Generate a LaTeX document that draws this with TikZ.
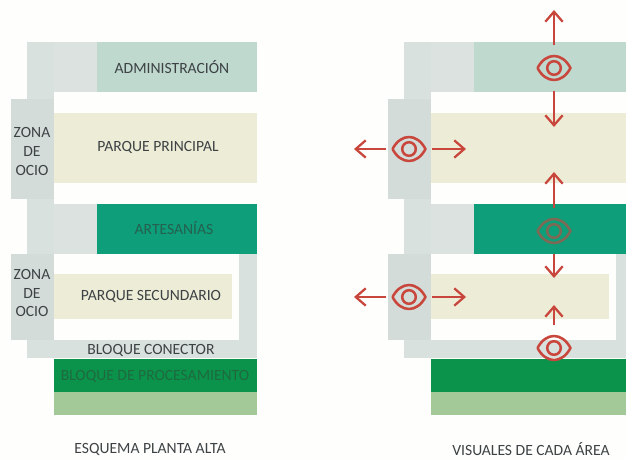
\documentclass[tikz,border=0pt]{standalone}
\usepackage{fontspec}
\setmainfont{Carlito}
\usetikzlibrary{arrows.meta}
\definecolor{paper}{HTML}{FEFEFD}
\definecolor{grayblock}{HTML}{D9E1DE}
\definecolor{grayupper}{HTML}{DBE2DF}
\definecolor{zonablock}{HTML}{D4DCDA}
\definecolor{adminblock}{HTML}{BFD9CF}
\definecolor{parkblock}{HTML}{EDEDD7}
\definecolor{craftblock}{HTML}{0E9E7A}
\definecolor{procblock}{HTML}{0B934B}
\definecolor{lowblock}{HTML}{A3C998}
\definecolor{labelink}{HTML}{3D4244}
\definecolor{craftink}{HTML}{24614F}
\definecolor{procink}{HTML}{1E6A3E}
\definecolor{viewred}{HTML}{C9463C}
\tikzset{
    label/.style = {text = labelink, font = \fontsize{11.7pt}{13.9pt}\selectfont, align = center, inner sep = 0},
    eye/.style = {circle, minimum size = 34, inner sep = 0},
    eyeline/.style = {draw = viewred, line width = 1.9pt},
    view/.style = {draw = viewred, line width = 1.7pt, -{Straight Barb[length = 7.5pt, width = 13pt, line width = 1.7pt]}}
}
\newcommand{\planblocks}[1]{
    \begin{scope}[xshift = #1 * 0.75pt]
        \fill [grayblock] (27, 42) rectangle (54, 358);
        \fill [grayupper] (54, 42) rectangle (97, 92);
        \fill [grayupper] (54, 204) rectangle (97, 254);
        \fill [grayblock] (54, 340) rectangle (257, 358);
        \fill [grayblock] (239, 254) rectangle (257, 358);
        \fill [zonablock] (11, 99) rectangle (54, 199);
        \fill [zonablock] (11, 254) rectangle (54, 340);
        \fill [adminblock] (97, 42) rectangle (257, 92);
        \fill [parkblock] (54, 113) rectangle (257, 183);
        \fill [craftblock] (97, 204) rectangle (257, 254);
        \fill [parkblock] (54, 274) rectangle (232, 319);
        \fill [procblock] (54, 359) rectangle (257, 392);
        \fill [lowblock] (54, 392) rectangle (257, 415);
    \end{scope}
}
\newcommand{\eyeicon}[3][1]{
    \node [eye] (#2) at (#3) {};
    \begin{scope}[shift = {(#2.center)}, opacity = #1]
        \draw [eyeline, line join = round] (-16.5, 0) .. controls (-8, -16) and (8, -16) .. (16.5, 0) .. controls (8, 16) and (-8, 16) .. (-16.5, 0);
        \draw [eyeline] (0, 0) circle (6.8);
    \end{scope}
}
\begin{document}
\begin{tikzpicture}[x = 0.75pt, y = -0.75pt]
    \useasboundingbox (0, 0) rectangle (626, 460);
    \clip (0, 0) rectangle (626, 460);
    \fill [paper] (0, 0) rectangle (626, 460);

    \planblocks{0}
    \planblocks{377}

    \node [label] (zonaA) at (32, 151.5) {ZONA\\DE\\OCIO};
    \node [label] (zonaB) at (32, 293) {ZONA\\DE\\OCIO};
    \node [label] (admin) at (172, 67) {ADMINISTRACIÓN};
    \node [label] (principal) at (158, 147) {PARQUE PRINCIPAL};
    \node [label, text = craftink] (craft) at (174, 228) {ARTESANÍAS};
    \node [label] (secundario) at (151, 296) {PARQUE SECUNDARIO};
    \node [label] (conector) at (151, 350) {BLOQUE CONECTOR};
    \node [label, text = procink] (proceso) at (155, 376) {BLOQUE DE PROCESAMIENTO};
    \node [label] (esquema) at (150, 449) {ESQUEMA PLANTA ALTA};
    \node [label] (visuales) at (531, 449) {VISUALES DE CADA ÁREA};

    \eyeicon{eyeA}{554, 68}
    \eyeicon{eyeB}{409, 149}
    \eyeicon[0.6]{eyeC}{554, 231}
    \eyeicon{eyeD}{409, 297}
    \eyeicon{eyeE}{554, 348}

    \coordinate (tipAup) at (554, 10);
    \coordinate (tipAdown) at (554, 127);
    \coordinate (tipBleft) at (354, 149);
    \coordinate (tipBright) at (466, 149);
    \coordinate (tipCup) at (554, 172);
    \coordinate (tipCdown) at (554, 278);
    \coordinate (tipDleft) at (354, 297);
    \coordinate (tipDright) at (466, 297);
    \coordinate (tipEup) at (554, 305);

    \draw [view] (eyeA.north) -- (tipAup);
    \draw [view] (eyeA.south) -- (tipAdown);
    \draw [view] (eyeB.west) -- (tipBleft);
    \draw [view] (eyeB.east) -- (tipBright);
    \draw [view] (eyeC.north) -- (tipCup);
    \draw [view] (eyeC.south) -- (tipCdown);
    \draw [view] (eyeD.west) -- (tipDleft);
    \draw [view] (eyeD.east) -- (tipDright);
    \draw [view] (eyeE.north) -- (tipEup);
\end{tikzpicture}
\end{document}
